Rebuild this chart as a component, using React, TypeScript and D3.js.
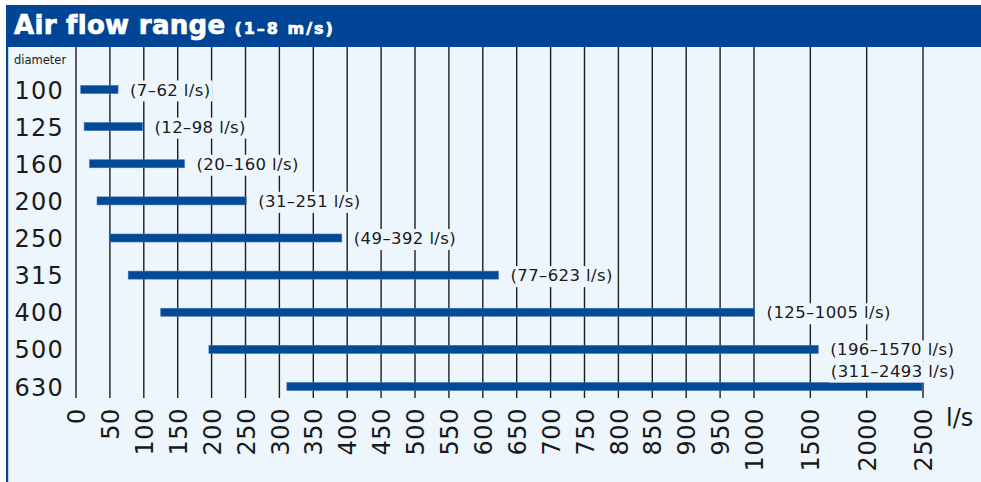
import React, { useEffect, useRef } from "react";
import * as d3 from "d3";

const diameters = ["100", "125", "160", "200", "250", "315", "400", "500", "630"];
const minFlow = [7, 12, 20, 31, 49, 77, 125, 196, 311];
const maxFlow = [62, 98, 160, 251, 392, 623, 1005, 1570, 2493];
const ticks = [0, 50, 100, 150, 200, 250, 300, 350, 400, 450, 500, 550, 600, 650, 700, 750, 800, 850, 900, 950, 1000, 1500, 2000, 2500];
const title = "Air flow range";
const subtitle = "(1–8 m/s)";
const unit = "l/s";
const rowHeader = "diameter";

const W = 981;
const H = 482;
const BG = "#eef6fd";
const BLUE = "#004595";
const BAR = "#004a98";
const FONT = "'DejaVu Sans', sans-serif";

export default function App() {
  const ref = useRef<SVGSVGElement | null>(null);

  useEffect(() => {
    const svg = d3.select(ref.current);
    svg.selectAll("*").remove();

    // frame
    svg.append("rect").attr("x", 6).attr("y", 5).attr("width", W).attr("height", H).attr("fill", BG);
    svg.append("rect").attr("x", 6).attr("y", 5).attr("width", 2.2).attr("height", H).attr("fill", BLUE);
    svg.append("rect").attr("x", 6).attr("y", 5).attr("width", W).attr("height", 42).attr("fill", BLUE);

    const t = svg.append("text").attr("x", 14).attr("y", 34).attr("fill", "#fff")
      .attr("stroke", "#fff").attr("stroke-width", 0.7)
      .attr("font-family", FONT).attr("font-weight", "bold");
    t.append("tspan").attr("font-size", 26).attr("letter-spacing", 0.3).text(title);
    t.append("tspan").attr("font-size", 16).attr("dx", 9).attr("letter-spacing", 2).text(subtitle);

    const x = d3.scaleLinear().domain([0, 1000, 2500]).range([76, 754, 923]);
    const y = d3.scalePoint<string>().domain(diameters).range([89.5, 386.5]);
    const gridTop = 47;
    const gridBottom = 398;

    // gridlines
    svg.append("g").selectAll("line").data(ticks).join("line")
      .attr("x1", (d) => x(d)).attr("x2", (d) => x(d))
      .attr("y1", gridTop).attr("y2", gridBottom)
      .attr("stroke", "#1e1e1e").attr("stroke-width", 1.4);

    // tick labels
    svg.append("g").selectAll("text").data(ticks).join("text")
      .attr("transform", (d) => `translate(${x(d)},408) rotate(-90)`)
      .attr("text-anchor", "end").attr("dy", "0.38em")
      .attr("font-family", FONT).attr("font-size", 24).attr("fill", "#1a1a1a")
      .attr("letter-spacing", 0.6)
      .text((d) => String(d));

    svg.append("text").attr("x", 946).attr("y", 426)
      .attr("font-family", FONT).attr("font-size", 24).attr("fill", "#1a1a1a").text(unit);

    svg.append("text").attr("x", 14).attr("y", 64)
      .attr("font-family", FONT).attr("font-size", 11.5).attr("fill", "#1a1a1a").text(rowHeader);

    // row labels
    svg.append("g").selectAll("text").data(diameters).join("text")
      .attr("x", 64).attr("y", (d) => (y(d) as number) + 9)
      .attr("text-anchor", "end")
      .attr("font-family", FONT).attr("font-size", 24).attr("fill", "#1a1a1a")
      .attr("letter-spacing", 1.2)
      .text((d) => d);

    // bars
    const rows = diameters.map((d, i) => ({ d, lo: minFlow[i], hi: maxFlow[i] }));
    svg.append("g").selectAll("rect").data(rows).join("rect")
      .attr("x", (r) => x(r.lo)).attr("width", (r) => x(r.hi) - x(r.lo))
      .attr("y", (r) => (y(r.d) as number) - 4).attr("height", 8)
      .attr("fill", BAR).attr("stroke", "#3d6fb0").attr("stroke-width", 0.6);

    // value labels with background gaps
    const lg = svg.append("g");
    rows.forEach((r) => {
      const g = lg.append("g");
      const bg = g.append("rect").attr("fill", BG);
      const txt = g.append("text")
        .attr("font-family", FONT).attr("font-size", 16.5).attr("fill", "#1a1a1a")
        .attr("letter-spacing", 0.4)
        .text(`(${r.lo}–${r.hi} l/s)`);
      const w = (txt.node() as SVGTextElement).getComputedTextLength();
      let tx = x(r.hi) + 12;
      let ty = (y(r.d) as number) + 6;
      if (tx + w > W - 20) {
        tx = W - 26 - w;
        ty = (y(r.d) as number) - 10;
      }
      txt.attr("x", tx).attr("y", ty);
      bg.attr("x", tx - 2).attr("y", ty - 15).attr("width", w + 4).attr("height", 21);
    });
  }, []);

  return (
    <svg
      ref={ref}
      width={W}
      height={H}
      style={{ position: "absolute", left: 0, top: 0, display: "block", background: "#fff" }}
    />
  );
}
